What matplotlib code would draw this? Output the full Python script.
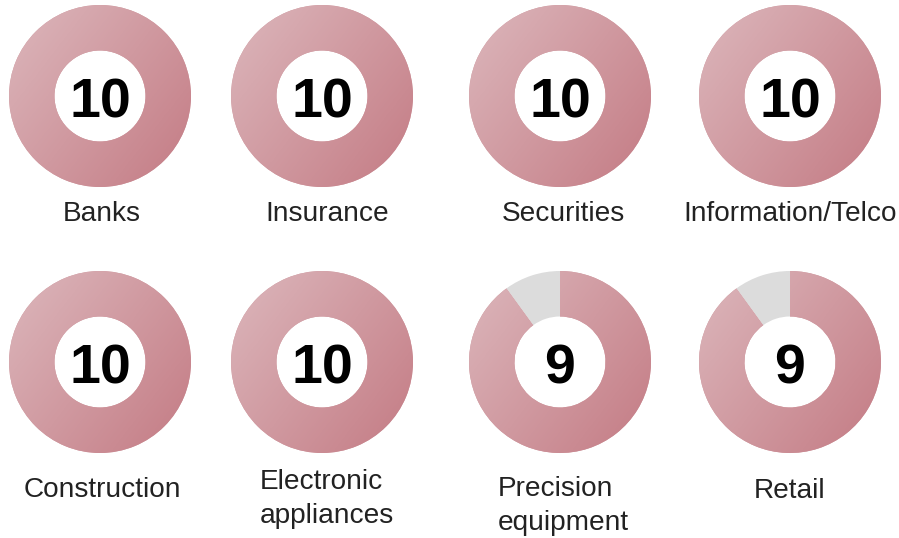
import matplotlib
matplotlib.use("Agg")
import matplotlib.pyplot as plt
import numpy as np
from matplotlib.colors import LinearSegmentedColormap

# ---------------------------------------------------------------------------
# data
# ---------------------------------------------------------------------------
sectors = ["Banks", "Insurance", "Securities", "Information/Telco",
           "Construction", "Electronic\nappliances", "Precision\nequipment", "Retail"]
scores = [10, 10, 10, 10, 10, 10, 9, 9]
max_score = 10

# ---------------------------------------------------------------------------
# layout (pixels)
# ---------------------------------------------------------------------------
W, H = 899, 538
col_x = [100, 322, 560, 790]
row_y = [96, 362]
R = 91
label_dx = [2, 5, 3, 0]
label_y = [214, 214, 214, 214, 490, 499, 506, 491]

plt.rcParams["font.family"] = ["Liberation Sans", "DejaVu Sans"]
fig = plt.figure(figsize=(W / 100, H / 100), dpi=100)

pink_cmap = LinearSegmentedColormap.from_list("pink", ["#dcb7bc", "#c47b84"])
grey = "#dcdcdc"

# diagonal gradient, light top-left -> dark bottom-right
gx, gy = np.meshgrid(np.linspace(-1, 1, 200), np.linspace(-1, 1, 200))
grad = np.clip((1.3 * (gx + 1) + (1 - gy)) / 4.6, 0, 1)

for i, (name, val) in enumerate(zip(sectors, scores)):
    cx = col_x[i % 4]
    cy = row_y[i // 4]
    ax = fig.add_axes([(cx - R) / W, 1 - (cy + R) / H, 2 * R / W, 2 * R / H])
    wedges, _ = ax.pie([val, max_score - val], radius=1, startangle=90,
                       counterclock=False, colors=["#d09aa0", grey],
                       wedgeprops=dict(width=0.5, edgecolor="none"))
    im = ax.imshow(grad, cmap=pink_cmap, extent=(-1, 1, -1, 1),
                   origin="lower", vmin=0, vmax=1, zorder=3)
    im.set_clip_path(wedges[0])
    ax.text(0, -21 / R, str(val), ha="center", va="baseline",
            fontsize=40, fontweight="bold", color="black", zorder=5)
    ax.set_xlim(-1, 1)
    ax.set_ylim(-1, 1)
    ax.axis("off")

    fig.text((cx + label_dx[i % 4]) / W, 1 - label_y[i] / H, name,
             ha="center", va="center", multialignment="left",
             fontsize=20.2, color="#222222", linespacing=1.38)

fig.savefig("out.png", dpi=100)
